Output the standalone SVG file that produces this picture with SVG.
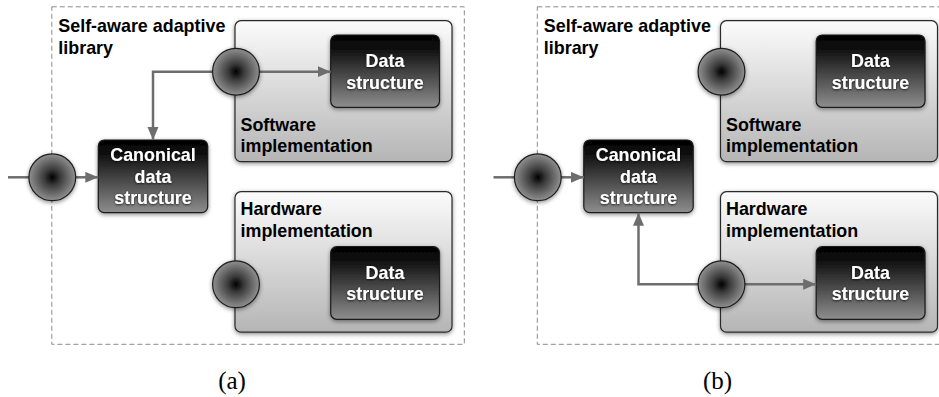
<svg xmlns="http://www.w3.org/2000/svg" width="939" height="397" viewBox="0 0 939 397">
  <style>
    .frame { fill: none; stroke: #8a8a8a; stroke-width: 1; stroke-dasharray: 5 3; }
    .impl { fill: url(#lightGrad); stroke: #2a2a2a; stroke-width: 1.2; filter: url(#shadow); }
    .dark { fill: url(#darkGrad); stroke: #1a1a1a; stroke-width: 1.2; filter: url(#shadow); }
    .port { fill: url(#portGrad); stroke: #1e1e1e; stroke-width: 1.2; filter: url(#shadow); }
    .label { font-family: "Liberation Sans", Arial, Helvetica, sans-serif; font-weight: bold; font-size: 17.9px; fill: #000; }
    .inner { font-family: "Liberation Sans", Arial, Helvetica, sans-serif; font-weight: bold; font-size: 17.9px; fill: #fff; text-anchor: middle; filter: url(#textGlow); }
    .caption { font-family: "Liberation Serif", "Times New Roman", serif; font-size: 25px; fill: #000; text-anchor: middle; }
    .wire { fill: none; stroke: #6d6d6d; stroke-width: 2.5; }
    .wire.arrow { marker-end: url(#head); }
  </style>
  <defs>
    <linearGradient id="lightGrad" x1="0" y1="0" x2="0" y2="1">
      <stop offset="0" stop-color="#fbfbfb"/>
      <stop offset="1" stop-color="#b5b5b5"/>
    </linearGradient>
    <linearGradient id="darkGrad" x1="0" y1="0" x2="0" y2="1">
      <stop offset="0" stop-color="#000"/>
      <stop offset="0.2" stop-color="#111"/>
      <stop offset="1" stop-color="#8e8e8e"/>
    </linearGradient>
    <radialGradient id="portGrad" cx="0.5" cy="0.5" r="0.5">
      <stop offset="0" stop-color="#000"/>
      <stop offset="0.35" stop-color="#3c3c3c"/>
      <stop offset="1" stop-color="#909090"/>
    </radialGradient>
    <filter id="shadow" x="-20%" y="-20%" width="140%" height="140%">
      <feDropShadow dx="0" dy="1.5" stdDeviation="2" flood-color="#000" flood-opacity="0.45"/>
    </filter>
    <filter id="textGlow" x="-10%" y="-30%" width="120%" height="160%">
      <feDropShadow dx="0" dy="0.8" stdDeviation="1" flood-color="#000" flood-opacity="0.8"/>
    </filter>
    <marker id="head" markerUnits="userSpaceOnUse" markerWidth="14" markerHeight="12" refX="13" refY="5.5" orient="auto">
      <path d="M0,0 L13,5.5 L0,11 Z" fill="#6d6d6d"/>
    </marker>
  </defs>

  <!-- Panel (a): software path selected -->
  <g id="panel-a">
    <g id="a-library">
      <rect class="frame" x="51.8" y="6.8" width="412.5" height="337.5"/>
      <text class="label" x="58.3" y="32">Self-aware adaptive</text>
      <text class="label" x="58.3" y="53.5">library</text>
    </g>
    <g id="a-software">
      <rect class="impl" x="235" y="20.7" width="217" height="141" rx="6"/>
      <text class="label" x="240.5" y="130.8">Software</text>
      <text class="label" x="240.5" y="152">implementation</text>
    </g>
    <g id="a-hardware">
      <rect class="impl" x="235" y="191.7" width="217" height="140.5" rx="6"/>
      <text class="label" x="240.5" y="215.3">Hardware</text>
      <text class="label" x="240.5" y="236.5">implementation</text>
    </g>
    <g id="a-sw-data">
      <rect class="dark" x="330.7" y="35" width="108.8" height="72.3" rx="6"/>
      <text class="inner" x="385" y="67">Data</text>
      <text class="inner" x="385" y="88.5">structure</text>
    </g>
    <g id="a-hw-data">
      <rect class="dark" x="330.7" y="246.7" width="108.8" height="72.6" rx="6"/>
      <text class="inner" x="385" y="278.5">Data</text>
      <text class="inner" x="385" y="300.2">structure</text>
    </g>
    <g id="a-canonical">
      <rect class="dark" x="98.3" y="140" width="109.4" height="72.7" rx="6"/>
      <text class="inner" x="153" y="161.3">Canonical</text>
      <text class="inner" x="153" y="182.8">data</text>
      <text class="inner" x="153" y="204.3">structure</text>
    </g>
    <g id="a-connectors">
      <path class="wire" d="M8,177.3 H30"/>
      <path class="wire arrow" d="M75,177.3 H98.3"/>
      <path class="wire arrow" d="M213,71.7 H153 V140"/>
      <path class="wire arrow" d="M259,71.7 H330.7"/>
    </g>
    <g id="a-input-port"><circle class="port" cx="52.3" cy="177.3" r="23.4"/></g>
    <g id="a-sw-port"><circle class="port" cx="236" cy="71.7" r="23.4"/></g>
    <g id="a-hw-port"><circle class="port" cx="236" cy="284.3" r="23.4"/></g>
    <text id="a-caption" class="caption" x="232" y="389">(a)</text>
  </g>

  <!-- Panel (b): hardware path selected -->
  <g id="panel-b" transform="translate(485.5,0)">
    <g id="b-library">
      <rect class="frame" x="51.8" y="6.8" width="412.5" height="337.5"/>
      <text class="label" x="58.3" y="32">Self-aware adaptive</text>
      <text class="label" x="58.3" y="53.5">library</text>
    </g>
    <g id="b-software">
      <rect class="impl" x="235" y="20.7" width="217" height="141" rx="6"/>
      <text class="label" x="240.5" y="130.8">Software</text>
      <text class="label" x="240.5" y="152">implementation</text>
    </g>
    <g id="b-hardware">
      <rect class="impl" x="235" y="191.7" width="217" height="140.5" rx="6"/>
      <text class="label" x="240.5" y="215.3">Hardware</text>
      <text class="label" x="240.5" y="236.5">implementation</text>
    </g>
    <g id="b-sw-data">
      <rect class="dark" x="330.7" y="35" width="108.8" height="72.3" rx="6"/>
      <text class="inner" x="385" y="67">Data</text>
      <text class="inner" x="385" y="88.5">structure</text>
    </g>
    <g id="b-hw-data">
      <rect class="dark" x="330.7" y="246.7" width="108.8" height="72.6" rx="6"/>
      <text class="inner" x="385" y="278.5">Data</text>
      <text class="inner" x="385" y="300.2">structure</text>
    </g>
    <g id="b-canonical">
      <rect class="dark" x="98.3" y="140" width="109.4" height="72.7" rx="6"/>
      <text class="inner" x="153" y="161.3">Canonical</text>
      <text class="inner" x="153" y="182.8">data</text>
      <text class="inner" x="153" y="204.3">structure</text>
    </g>
    <g id="b-connectors">
      <path class="wire" d="M8,177.3 H30"/>
      <path class="wire arrow" d="M75,177.3 H98.3"/>
      <path class="wire arrow" d="M213,284.3 H153 V212.7"/>
      <path class="wire arrow" d="M259,284.3 H330.7"/>
    </g>
    <g id="b-input-port"><circle class="port" cx="52.3" cy="177.3" r="23.4"/></g>
    <g id="b-sw-port"><circle class="port" cx="236" cy="71.7" r="23.4"/></g>
    <g id="b-hw-port"><circle class="port" cx="236" cy="284.3" r="23.4"/></g>
    <text id="b-caption" class="caption" x="232" y="389">(b)</text>
  </g>
</svg>
